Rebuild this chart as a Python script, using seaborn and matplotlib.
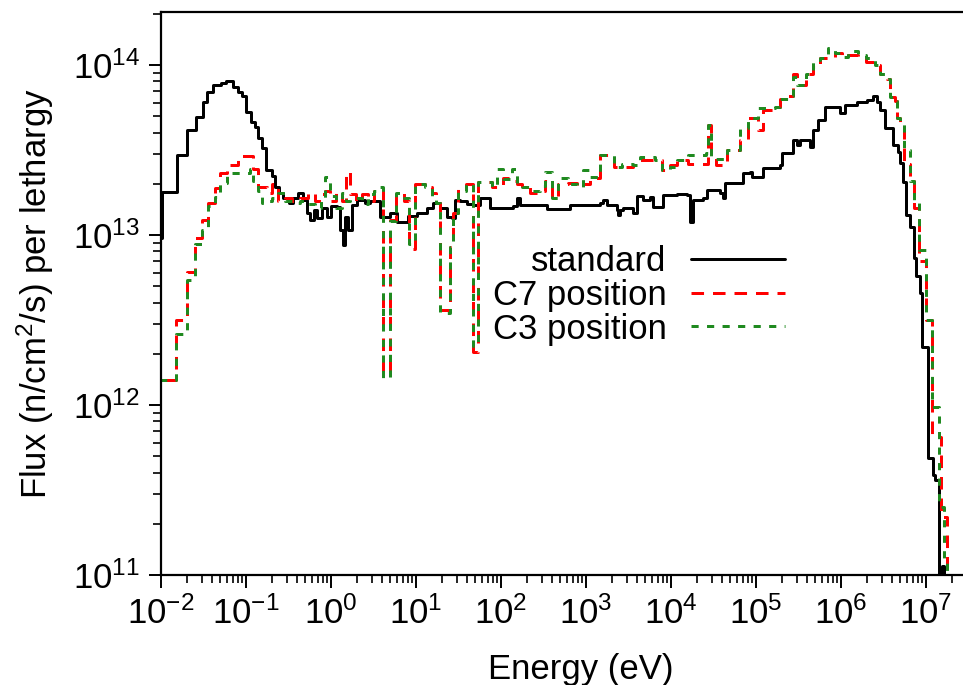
import numpy as np
import pandas as pd
import matplotlib
matplotlib.use("Agg")
import matplotlib.pyplot as plt
from matplotlib.lines import Line2D
from matplotlib.ticker import LogLocator, NullFormatter
import seaborn as sns

# ---- data (log10 of group lower edges in eV, log10 of flux per lethargy) ----
std_log_e = [-2.20, -1.985, -1.81, -1.69, -1.588, -1.51, -1.46, -1.385, -1.29, -1.23,
             -1.15, -1.10, -1.05, -1.00, -0.945, -0.894, -0.855, -0.815, -0.765, -0.70,
             -0.66, -0.61, -0.56, -0.50, -0.45, -0.39, -0.33, -0.282, -0.247, -0.20,
             -0.165, -0.106, -0.047, 0.00, 0.07, 0.106, 0.14, 0.165, 0.20, 0.247,
             0.306, 0.40, 0.459, 0.576, 0.694, 0.776, 0.90, 1.012, 1.13, 1.20,
             1.28, 1.365, 1.42, 1.46, 1.52, 1.60, 1.67, 1.753, 1.87, 1.99,
             2.14, 2.19, 2.22, 2.54, 2.81, 3.01, 3.165, 3.20, 3.25, 3.365,
             3.38, 3.40, 3.44, 3.55, 3.60, 3.67, 3.75, 3.79, 3.906, 4.07,
             4.19, 4.22, 4.26, 4.376, 4.42, 4.58, 4.61, 4.635, 4.847, 4.93,
             4.95, 5.08, 5.28, 5.30, 5.435, 5.48, 5.52, 5.635, 5.67, 5.73,
             5.81, 5.99, 6.05, 6.19, 6.31, 6.376, 6.42, 6.46, 6.52, 6.61,
             6.67, 6.694, 6.73, 6.77, 6.81, 6.86, 6.88, 6.93, 6.95, 7.027,
             7.08, 7.106, 7.157, 7.19, 7.215, 7.60]
std_log_flux = [12.98, 13.255, 13.47, 13.618, 13.696, 13.784, 13.843, 13.88, 13.896, 13.905,
                13.872, 13.843, 13.82, 13.725, 13.667, 13.637, 13.569, 13.51, 13.38, 13.35,
                13.284, 13.245, 13.216, 13.19, 13.22, 13.247, 13.206, 13.129, 13.088, 13.15,
                13.10, 13.159, 13.106, 13.17, 13.165, 13.03, 12.94, 13.106, 13.03, 13.176,
                13.206, 13.19, 13.20, 13.106, 13.13, 13.076, 13.11, 13.13, 13.159, 13.188,
                13.159, 13.106, 13.10, 13.206, 13.20, 13.18, 13.176, 13.218, 13.159, 13.16,
                13.17, 13.218, 13.176, 13.153, 13.176, 13.176, 13.188, 13.206, 13.176, 13.147,
                13.12, 13.147, 13.159, 13.13, 13.23, 13.206, 13.224, 13.165, 13.235, 13.24,
                13.235, 13.076, 13.206, 13.218, 13.265, 13.247, 13.218, 13.306, 13.365, 13.37,
                13.34, 13.394, 13.41, 13.48, 13.56, 13.53, 13.56, 13.518, 13.618, 13.676,
                13.753, 13.718, 13.765, 13.78, 13.794, 13.82, 13.78, 13.735, 13.63, 13.53,
                13.49, 13.424, 13.31, 13.118, 13.05, 12.865, 12.76, 12.66, 12.343, 11.688,
                11.59, 11.56, 10.5, 11.05, 10.5]

c_log_e = [-2.20, -1.824, -1.70, -1.60, -1.52, -1.447, -1.365, -1.306, -1.227, -1.094,
           -0.953, -0.918, -0.86, -0.81, -0.753, -0.694, -0.624, -0.54, -0.46, -0.365,
           -0.27, -0.19, -0.118, -0.07, -0.012, 0.06, 0.13, 0.176, 0.224, 0.294,
           0.365, 0.435, 0.506, 0.553, 0.612, 0.694, 0.765, 0.86, 0.918, 0.988,
           1.106, 1.19, 1.235, 1.282, 1.40, 1.435, 1.494, 1.59, 1.67, 1.73,
           1.894, 1.953, 2.02, 2.13, 2.19, 2.25, 2.34, 2.46, 2.52, 2.60,
           2.67, 2.79, 2.894, 2.965, 3.047, 3.165, 3.33, 3.42, 3.55, 3.635,
           3.81, 3.894, 3.99, 4.07, 4.20, 4.41, 4.435, 4.47, 4.53, 4.66,
           4.81, 4.906, 5.02, 5.08, 5.22, 5.28, 5.376, 5.435, 5.48, 5.59,
           5.67, 5.753, 5.847, 5.93, 6.01, 6.08, 6.20, 6.294, 6.40, 6.46,
           6.54, 6.576, 6.635, 6.66, 6.694, 6.74, 6.81, 6.86, 6.918, 7.00,
           7.07, 7.153, 7.176, 7.21, 7.247, 7.60]
c7_log_flux = [12.15, 12.50, 12.78, 12.98, 13.09, 13.19, 13.276, 13.365, 13.41, 13.465,
               13.465, 13.39, 13.28, 13.28, 13.25, 13.30, 13.20, 13.22, 13.20, 13.22,
               13.25, 13.20, 13.24, 13.26, 13.20, 13.25, 13.20, 13.37, 13.24, 13.20,
               13.24, 13.20, 13.26, 13.27, 12.19, 13.09, 13.25, 13.20, 12.92, 13.30,
               13.28, 13.25, 13.19, 12.56, 12.93, 13.13, 13.28, 13.30, 12.31, 13.31,
               13.28, 13.28, 13.335, 13.32, 13.30, 13.28, 13.25, 13.26, 13.32, 13.22,
               13.30, 13.306, 13.28, 13.30, 13.335, 13.47, 13.40, 13.40, 13.41, 13.44,
               13.44, 13.38, 13.41, 13.44, 13.42, 13.42, 13.65, 13.44, 13.41, 13.50,
               13.56, 13.69, 13.62, 13.735, 13.753, 13.80, 13.82, 13.95, 13.88, 13.95,
               13.99, 14.04, 14.04, 14.07, 14.05, 14.06, 14.04, 14.02, 14.00, 13.95,
               13.92, 13.81, 13.79, 13.69, 13.66, 13.42, 13.32, 13.16, 12.85, 12.50,
               11.81, 11.81, 11.34, 11.34, 10.5]
c3_log_flux = [12.15, 12.42, 12.735, 12.95, 13.03, 13.17, 13.224, 13.306, 13.365, 13.365,
               13.39, 13.32, 13.26, 13.19, 13.20, 13.22, 13.25, 13.20, 13.19, 13.20,
               13.18, 13.16, 13.22, 13.34, 13.23, 13.16, 13.25, 13.20, 13.22, 13.22,
               13.18, 13.24, 13.26, 13.28, 12.16, 13.08, 13.25, 13.22, 12.95, 13.30,
               13.28, 13.22, 13.19, 12.54, 12.93, 13.13, 13.26, 13.30, 12.35, 13.31,
               13.28, 13.39, 13.33, 13.39, 13.30, 13.28, 13.26, 13.29, 13.37, 13.22,
               13.335, 13.30, 13.28, 13.38, 13.34, 13.47, 13.40, 13.42, 13.41, 13.46,
               13.44, 13.38, 13.40, 13.44, 13.47, 13.48, 13.65, 13.46, 13.45, 13.50,
               13.63, 13.69, 13.75, 13.746, 13.753, 13.80, 13.82, 13.93, 13.88, 13.95,
               14.03, 14.04, 14.10, 14.07, 14.05, 14.08, 14.06, 14.04, 14.00, 13.95,
               13.92, 13.81, 13.79, 13.69, 13.66, 13.50, 13.32, 13.20, 12.91, 12.50,
               11.99, 11.40, 11.40, 11.10, 10.5]

series_names = ["standard", "C7 position", "C3 position"]
series_colors = ["#000000", "#ff0000", "#1f8a1f"]
x_ticks = [1e-2, 1e-1, 1e0, 1e1, 1e2, 1e3, 1e4, 1e5, 1e6, 1e7]
y_ticks = [1e11, 1e12, 1e13, 1e14]


def steps(name, log_e, log_f):
    e = 10.0 ** np.asarray(log_e)
    f = 10.0 ** np.append(np.asarray(log_f), log_f[-1])
    return pd.DataFrame({"Energy": e, "Flux": f, "Series": name})


df = pd.concat([
    steps(series_names[0], std_log_e, std_log_flux),
    steps(series_names[1], c_log_e, c7_log_flux),
    steps(series_names[2], c_log_e, c3_log_flux),
], ignore_index=True)

sns.set_style("white")
plt.rcParams["font.family"] = ["Liberation Sans", "DejaVu Sans"]
plt.rcParams["mathtext.fontset"] = "custom"
plt.rcParams["mathtext.rm"] = "Liberation Sans"
plt.rcParams["mathtext.it"] = "Liberation Sans:italic"
plt.rcParams["mathtext.bf"] = "Liberation Sans:bold"
for k in ["text.color", "axes.labelcolor", "xtick.color", "ytick.color", "axes.edgecolor"]:
    plt.rcParams[k] = "black"

W, H = 963, 685
fig = plt.figure(figsize=(W / 100, H / 100), dpi=100)
L, R, T, B = 161, 975, 12, 575
ax = fig.add_axes([L / W, 1 - B / H, (R - L) / W, (B - T) / H])
ax.set_xscale("log")
ax.set_yscale("log")

palette = dict(zip(series_names, series_colors))
dashes = {"standard": "", "C7 position": (4.2, 3.0), "C3 position": (2.4, 2.8)}
lw = 2.15
sns.lineplot(data=df, x="Energy", y="Flux", hue="Series", style="Series",
             hue_order=series_names, style_order=series_names,
             palette=palette, dashes=dashes, drawstyle="steps-post",
             estimator=None, sort=False, linewidth=lw, legend=False, ax=ax)

ax.set_xlim(1e-2, 10 ** (-2 + (R - L) / 85.0))
ax.set_ylim(1e11, 10 ** (11 + (B - T) / 170.0))

ax.xaxis.set_major_locator(LogLocator(base=10, numticks=100))
ax.xaxis.set_minor_locator(LogLocator(base=10, subs=np.arange(2, 10), numticks=100))
ax.yaxis.set_major_locator(LogLocator(base=10, numticks=100))
ax.yaxis.set_minor_locator(LogLocator(base=10, subs=np.arange(2, 10), numticks=100))
ax.xaxis.set_minor_formatter(NullFormatter())
ax.yaxis.set_minor_formatter(NullFormatter())
ax.set_xticks(x_ticks)
ax.set_yticks(y_ticks)

ax.tick_params(axis="both", which="major", direction="out", length=9, width=1.4,
               labelsize=25, color="black", labelcolor="black", pad=6)
ax.tick_params(axis="both", which="minor", direction="out", length=6, width=1.2,
               color="black")
ax.tick_params(axis="x", which="both", bottom=True, top=False)
ax.tick_params(axis="y", which="both", left=True, right=False)

for s in ax.spines.values():
    s.set_linewidth(1.6)
    s.set_color("black")
ax.spines["right"].set_visible(False)

ax.set_xlabel("Energy (eV)", fontsize=25, color="black")
ax.set_ylabel(r"Flux (n/cm$\mathregular{^2}$/s) per lethargy", fontsize=25, color="black")
ax.xaxis.set_label_coords((581 - L) / (R - L), (B - 653) / (B - T))
ax.yaxis.set_label_coords((56 - L) / (R - L), 0.5)

handles = [Line2D([], [], color=series_colors[0], lw=lw),
           Line2D([], [], color=series_colors[1], lw=lw, dashes=dashes["C7 position"]),
           Line2D([], [], color=series_colors[2], lw=lw, dashes=dashes["C3 position"])]
leg = ax.legend(handles, series_names, loc="upper right",
                bbox_to_anchor=(816 / W, 1 - 214 / H), bbox_transform=fig.transFigure,
                frameon=False, markerfirst=False, fontsize=25, handlelength=2.7,
                handletextpad=0.7, labelspacing=0.02, borderpad=0.4)
for t in leg.get_texts():
    t.set_color("black")

fig.savefig("out.png", dpi=100)
